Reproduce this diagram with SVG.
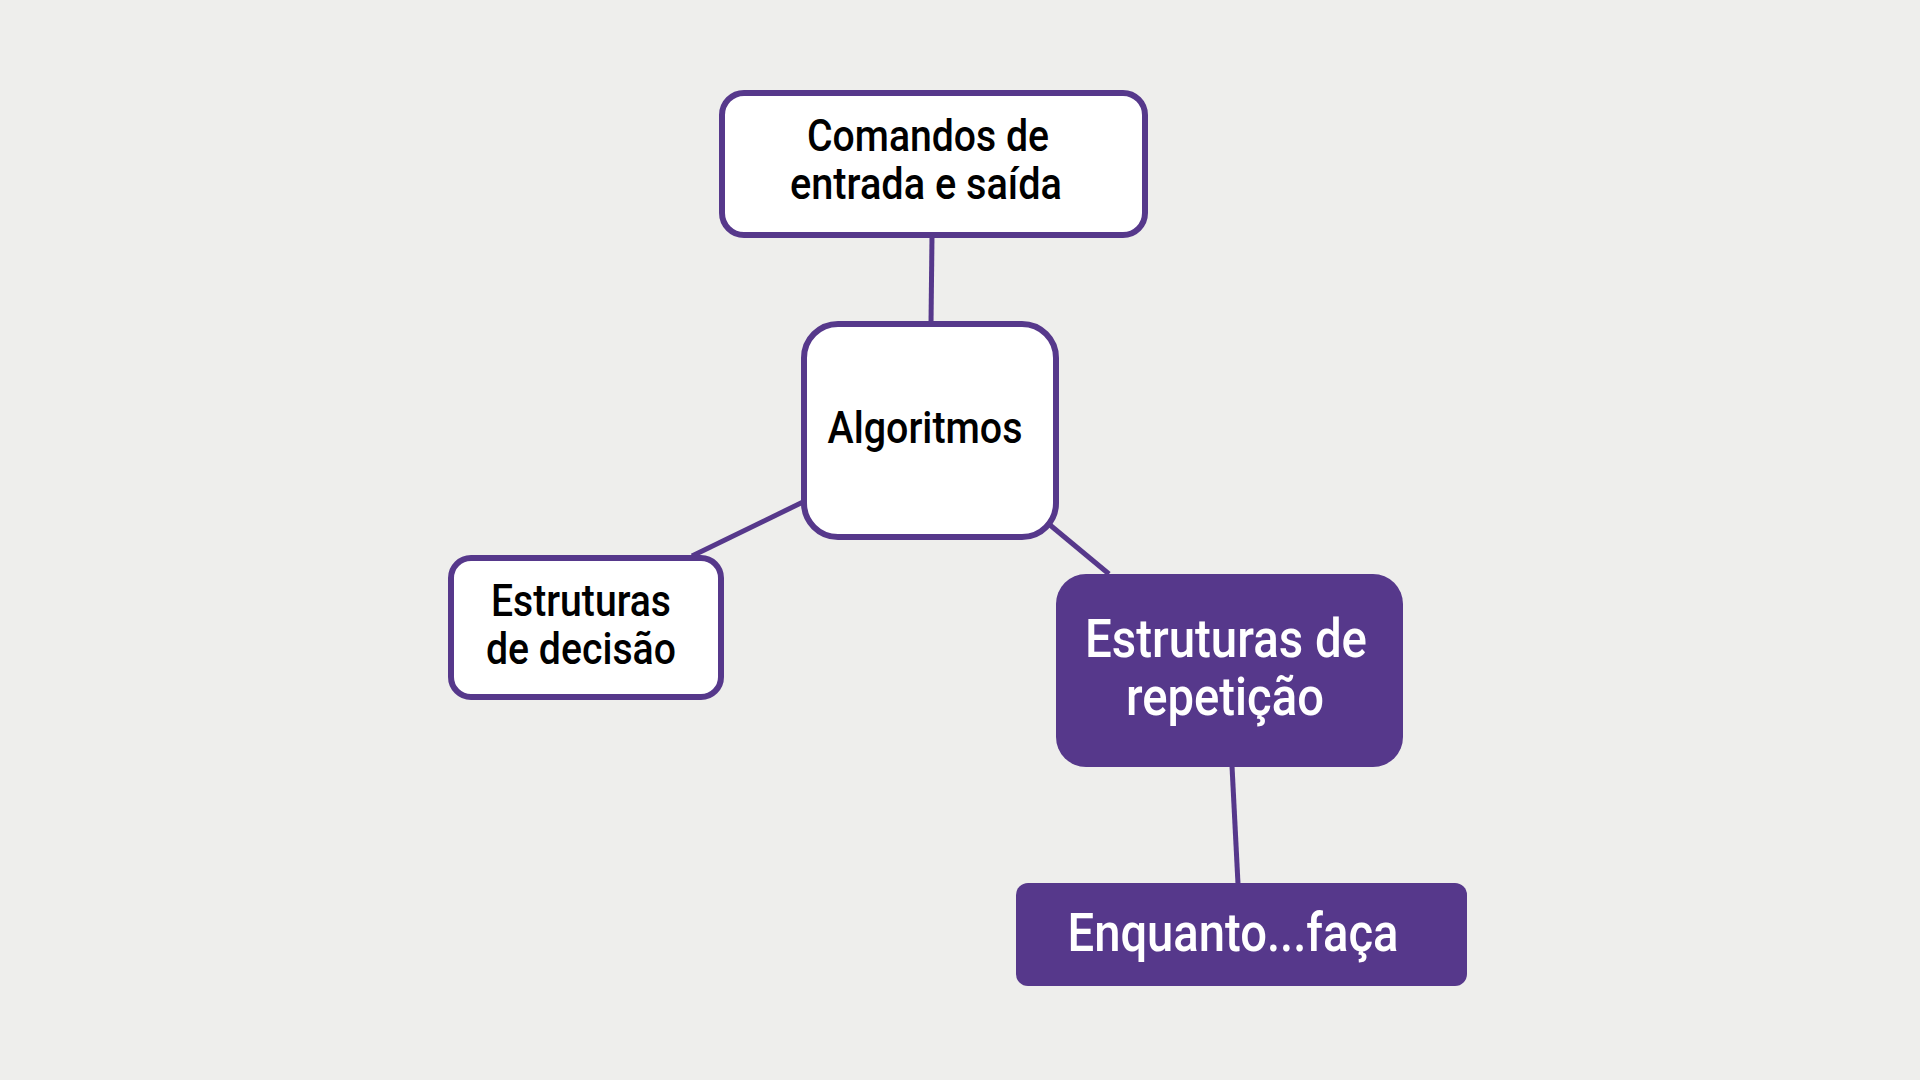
<svg xmlns="http://www.w3.org/2000/svg" width="1920" height="1080" viewBox="0 0 1920 1080">
<style>
.bg{fill:#EEEEEC}
.box{fill:#FFFFFF;stroke:#56388B;stroke-width:6}
.fill{fill:#56388B}
.edge{stroke:#56388B;stroke-width:5;fill:none}
.t{font-family:Roboto,"Liberation Sans",sans-serif;font-size:45px;font-weight:500;fill:#000;text-anchor:middle}
.tw{font-family:Roboto,"Liberation Sans",sans-serif;font-size:53px;font-weight:500;fill:#FFFFFF;text-anchor:middle}
</style>
<rect class="bg" x="0" y="0" width="1920" height="1080"/>
<g id="connectors">
<line class="edge" x1="932" y1="236" x2="931" y2="324"/>
<line class="edge" x1="803" y1="502" x2="692" y2="556"/>
<line class="edge" x1="1050" y1="525" x2="1109" y2="574"/>
<line class="edge" x1="1232" y1="766" x2="1238" y2="884"/>
</g>
<g id="node-comandos">
<rect class="box" x="722" y="93" width="423" height="142" rx="22"/>
<text class="t" x="928" y="151" textLength="242" lengthAdjust="spacingAndGlyphs">Comandos de</text>
<text class="t" x="926" y="199" textLength="272" lengthAdjust="spacingAndGlyphs">entrada e saída</text>
</g>
<g id="node-algoritmos">
<rect class="box" x="804" y="324" width="252" height="213" rx="34"/>
<text class="t" x="925" y="443" textLength="195" lengthAdjust="spacingAndGlyphs">Algoritmos</text>
</g>
<g id="node-decisao">
<rect class="box" x="451" y="558" width="270" height="139" rx="20"/>
<text class="t" x="581" y="616" textLength="180" lengthAdjust="spacingAndGlyphs">Estruturas</text>
<text class="t" x="581" y="664" textLength="190" lengthAdjust="spacingAndGlyphs">de decisão</text>
</g>
<g id="node-repeticao">
<rect class="fill" x="1056" y="574" width="347" height="193" rx="30"/>
<text class="tw" x="1226" y="657" textLength="282" lengthAdjust="spacingAndGlyphs">Estruturas de</text>
<text class="tw" x="1225" y="715" textLength="198" lengthAdjust="spacingAndGlyphs">repetição</text>
</g>
<g id="node-enquanto">
<rect class="fill" x="1016" y="883" width="451" height="103" rx="12"/>
<text class="tw" x="1233" y="951" textLength="331" lengthAdjust="spacingAndGlyphs">Enquanto...faça</text>
</g>
</svg>
